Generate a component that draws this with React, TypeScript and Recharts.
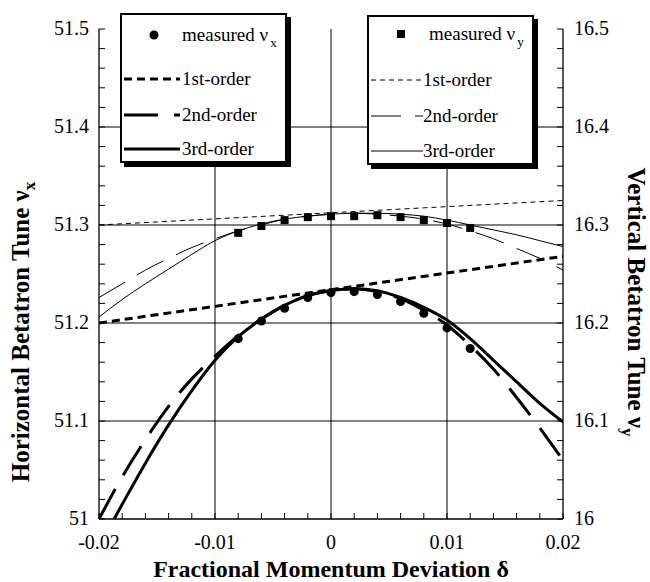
import React from 'react';
import { ComposedChart, Line, Scatter, XAxis, YAxis, ReferenceLine } from 'recharts';

// ---------- data ----------
const deltaGrid = [-0.02, -0.018, -0.016, -0.014, -0.012, -0.01, -0.008, -0.006, -0.004, -0.002, 0, 0.002, 0.004, 0.006, 0.008, 0.01, 0.012, 0.014, 0.016, 0.018, 0.02];
const nuX3 = [50.972, 51.015, 51.057, 51.096, 51.131, 51.162, 51.186, 51.204, 51.218, 51.228, 51.233, 51.235, 51.233, 51.226, 51.216, 51.203, 51.184, 51.162, 51.14, 51.118, 51.099];
const nuX2 = [51.0, 51.043, 51.081, 51.115, 51.143, 51.166, 51.187, 51.204, 51.218, 51.228, 51.233, 51.235, 51.232, 51.225, 51.213, 51.198, 51.177, 51.153, 51.124, 51.093, 51.06];
const nuY3 = [16.206, 16.224, 16.24, 16.255, 16.27, 16.284, 16.294, 16.301, 16.306, 16.309, 16.311, 16.312, 16.312, 16.311, 16.309, 16.305, 16.3, 16.295, 16.29, 16.284, 16.278];
const nuY2 = [16.226, 16.24, 16.254, 16.266, 16.277, 16.286, 16.294, 16.3, 16.306, 16.309, 16.311, 16.312, 16.311, 16.309, 16.306, 16.301, 16.294, 16.286, 16.276, 16.266, 16.254];

const delta1 = [-0.02, 0, 0.02];
const nuX1 = [51.2, 51.234, 51.268];
const nuY1 = [16.3, 16.3125, 16.325];

const deltaMeas = [-0.008, -0.006, -0.004, -0.002, 0, 0.002, 0.004, 0.006, 0.008, 0.01, 0.012];
const nuXMeas = [51.184, 51.202, 51.215, 51.226, 51.231, 51.232, 51.229, 51.222, 51.21, 51.195, 51.174];
const nuYMeas = [16.292, 16.299, 16.305, 16.308, 16.309, 16.309, 16.31, 16.308, 16.305, 16.302, 16.297];

const xTickValues = [-0.02, -0.018, -0.016, -0.014, -0.012, -0.01, -0.008, -0.006, -0.004, -0.002, 0, 0.002, 0.004, 0.006, 0.008, 0.01, 0.012, 0.014, 0.016, 0.018, 0.02];
const xMajorValues = [-0.02, -0.01, 0, 0.01, 0.02];
const xMajorLabels = ['-0.02', '-0.01', '0', '0.01', '0.02'];

const yLTickValues = [51, 51.02, 51.04, 51.06, 51.08, 51.1, 51.12, 51.14, 51.16, 51.18, 51.2, 51.22, 51.24, 51.26, 51.28, 51.3, 51.32, 51.34, 51.36, 51.38, 51.4, 51.42, 51.44, 51.46, 51.48, 51.5];
const yLMajorValues = [51, 51.1, 51.2, 51.3, 51.4, 51.5];
const yLMajorLabels = ['51', '51.1', '51.2', '51.3', '51.4', '51.5'];

const yRTickValues = [16, 16.02, 16.04, 16.06, 16.08, 16.1, 16.12, 16.14, 16.16, 16.18, 16.2, 16.22, 16.24, 16.26, 16.28, 16.3, 16.32, 16.34, 16.36, 16.38, 16.4, 16.42, 16.44, 16.46, 16.48, 16.5];
const yRMajorValues = [16, 16.1, 16.2, 16.3, 16.4, 16.5];
const yRMajorLabels = ['16', '16.1', '16.2', '16.3', '16.4', '16.5'];

const gridX = [-0.01, 0, 0.01];
const gridY = [51.1, 51.2, 51.3, 51.4];

// ---------- helpers ----------
const pair = (xs: number[], ys: number[]) => xs.map((d, i) => ({ d, v: ys[i] }));
const FONT = '"Liberation Serif", "Times New Roman", serif';
const TICK_FS = 20;
const TICK_LEN = 6;
const txtStyle: React.CSSProperties = { fontFamily: FONT };

const findLabel = (v: number, majors: number[], labels: string[]) => {
  const i = majors.findIndex((m) => Math.abs(m - v) < 1e-9);
  return i >= 0 ? labels[i] : null;
};

const BottomTick = (props: any) => {
  const { x, y, payload } = props;
  const lab = findLabel(payload.value, xMajorValues, xMajorLabels);
  return (
    <g>
      <line x1={x} y1={y} x2={x} y2={y - TICK_LEN} stroke="#000" strokeWidth={1} />
      {lab !== null && (
        <text x={x} y={y + 30} textAnchor="middle" fontSize={TICK_FS} style={txtStyle} fill="#000">{lab}</text>
      )}
    </g>
  );
};
const TopTick = (props: any) => {
  const { x, y } = props;
  return <line x1={x} y1={y} x2={x} y2={y + TICK_LEN} stroke="#000" strokeWidth={1} />;
};
const LeftTick = (props: any) => {
  const { x, y, payload } = props;
  const lab = findLabel(payload.value, yLMajorValues, yLMajorLabels);
  return (
    <g>
      <line x1={x} y1={y} x2={x + TICK_LEN} y2={y} stroke="#000" strokeWidth={1} />
      {lab !== null && (
        <text x={x - 10} y={y + 6} textAnchor="end" fontSize={TICK_FS} style={txtStyle} fill="#000">{lab}</text>
      )}
    </g>
  );
};
const RightTick = (props: any) => {
  const { x, y, payload } = props;
  const lab = findLabel(payload.value, yRMajorValues, yRMajorLabels);
  return (
    <g>
      <line x1={x} y1={y} x2={x - TICK_LEN} y2={y} stroke="#000" strokeWidth={1} />
      {lab !== null && (
        <text x={x + 11} y={y + 6} textAnchor="start" fontSize={TICK_FS} style={txtStyle} fill="#000">{lab}</text>
      )}
    </g>
  );
};

const TITLE_FS = 25;
const LeftTitle = (props: any) => {
  const vb = props.viewBox;
  const cx = vb.x + 21;
  const cy = vb.y + vb.height / 2 + 58;
  return (
    <text x={cx} y={cy} transform={`rotate(-90 ${cx} ${cy})`} textAnchor="middle" fontSize={TITLE_FS} fontWeight="bold" style={txtStyle} fill="#000" dy={8}>
      Horizontal Betatron Tune ν<tspan dy={6} fontSize={17}>x</tspan>
    </text>
  );
};
const RightTitle = (props: any) => {
  const vb = props.viewBox;
  const cx = vb.x + vb.width - 14;
  const cy = vb.y + vb.height / 2 + 28;
  return (
    <text x={cx} y={cy} transform={`rotate(90 ${cx} ${cy})`} textAnchor="middle" fontSize={TITLE_FS} fontWeight="bold" style={txtStyle} fill="#000" dy={8}>
      Vertical Betatron Tune ν<tspan dy={6} fontSize={17}>y</tspan>
    </text>
  );
};
const BottomTitle = (props: any) => {
  const vb = props.viewBox;
  const cx = vb.x + vb.width / 2;
  return (
    <text x={cx} y={vb.y + 58} textAnchor="middle" fontSize={24} fontWeight="bold" style={txtStyle} fill="#000">
      Fractional Momentum Deviation δ
    </text>
  );
};

// line styles
const thick = 3;
const thin = 1;
const dash1Thick = '8 5';
const dash2Thick = '34 16';
const dash1Thin = '5 4';
const dash2Thin = '30 14';

// ---------- legend ----------
const LegendBox = ({ left, top, width, height, rows, marker, sw, d1, d2, sampleW, textX, measX, markerX, sub }: any) => {
  const rowStyle = (cy: number): React.CSSProperties => ({ position: 'absolute', left: 0, top: cy - 12, height: 24, width: '100%' });
  const sample = (cy: number, dash?: string) => (
    <svg style={{ position: 'absolute', left: 0, top: cy - 5, overflow: 'visible' }} width={sampleW + 4} height={10}>
      <line x1={2} y1={5} x2={2 + sampleW} y2={5} stroke="#000" strokeWidth={sw} strokeDasharray={dash} />
    </svg>
  );
  const textStyle = (x: number): React.CSSProperties => ({ position: 'absolute', left: x, top: 0, lineHeight: '24px', fontSize: 19, fontFamily: FONT, whiteSpace: 'nowrap', color: '#000' });
  return (
    <div style={{ position: 'absolute', left, top, width, height, boxSizing: 'border-box', border: '2px solid #000', background: '#fff', boxShadow: '4px 4px 0 #000' }}>
      <div style={rowStyle(rows[0])}>
        <svg style={{ position: 'absolute', left: markerX - 6, top: 6, overflow: 'visible' }} width={12} height={12}>
          {marker === 'circle' ? <circle cx={6} cy={6} r={4.5} fill="#000" /> : <rect x={2} y={2} width={8} height={8} fill="#000" />}
        </svg>
        <span style={textStyle(measX)}>measured ν<sub style={{ fontSize: 13, verticalAlign: '-6px', marginLeft: 2 }}>{sub}</sub></span>
      </div>
      <div style={rowStyle(rows[1])}>
        {sample(12, d1)}
        <span style={textStyle(textX)}>1st-order</span>
      </div>
      <div style={rowStyle(rows[2])}>
        {sample(12, d2)}
        <span style={textStyle(textX)}>2nd-order</span>
      </div>
      <div style={rowStyle(rows[3])}>
        {sample(12)}
        <span style={textStyle(textX)}>3rd-order</span>
      </div>
    </div>
  );
};

export default function App() {
  return (
    <div style={{ position: 'absolute', left: 0, top: 0, width: 650, height: 582, background: '#fff' }}>
      <ComposedChart width={650} height={582} margin={{ top: 29, right: 0, bottom: 0, left: 0 }}>
        <XAxis
          xAxisId="b"
          dataKey="d"
          type="number"
          domain={[-0.02, 0.02]}
          ticks={xTickValues}
          interval={0}
          tickSize={0}
          tickMargin={0}
          tickLine={false}
          tick={<BottomTick />}
          axisLine={{ stroke: '#000', strokeWidth: 1.3 }}
          height={63}
          allowDataOverflow
          label={{ content: <BottomTitle /> } as any}
        />
        <XAxis
          xAxisId="t"
          orientation="top"
          type="number"
          domain={[-0.02, 0.02]}
          ticks={xTickValues}
          interval={0}
          tickSize={0}
          tickMargin={0}
          tickLine={false}
          tick={<TopTick />}
          axisLine={{ stroke: '#000', strokeWidth: 1.3 }}
          height={0}
          allowDataOverflow
        />
        <YAxis
          yAxisId="L"
          type="number"
          domain={[51, 51.5]}
          ticks={yLTickValues}
          interval={0}
          tickSize={0}
          tickMargin={0}
          tickLine={false}
          tick={<LeftTick />}
          axisLine={{ stroke: '#000', strokeWidth: 1.3 }}
          width={99}
          allowDataOverflow
          label={{ content: <LeftTitle /> } as any}
        />
        <YAxis
          yAxisId="R"
          orientation="right"
          type="number"
          domain={[16, 16.5]}
          ticks={yRTickValues}
          interval={0}
          tickSize={0}
          tickMargin={0}
          tickLine={false}
          tick={<RightTick />}
          axisLine={{ stroke: '#000', strokeWidth: 1.3 }}
          width={87}
          allowDataOverflow
          label={{ content: <RightTitle /> } as any}
        />

        {gridX.map((g) => (
          <ReferenceLine key={'gx' + g} x={g} xAxisId="b" yAxisId="L" stroke="#000" strokeWidth={1} ifOverflow="hidden" />
        ))}
        {gridY.map((g) => (
          <ReferenceLine key={'gy' + g} y={g} xAxisId="b" yAxisId="L" stroke="#000" strokeWidth={1} ifOverflow="hidden" />
        ))}

        <Line data={pair(delta1, nuY1)} dataKey="v" xAxisId="b" yAxisId="R" type="linear" stroke="#000" strokeWidth={thin} strokeDasharray={dash1Thin} dot={false} isAnimationActive={false} />
        <Line data={pair(deltaGrid, nuY2)} dataKey="v" xAxisId="b" yAxisId="R" type="monotone" stroke="#000" strokeWidth={thin} strokeDasharray={dash2Thin} dot={false} isAnimationActive={false} />
        <Line data={pair(deltaGrid, nuY3)} dataKey="v" xAxisId="b" yAxisId="R" type="monotone" stroke="#000" strokeWidth={thin} dot={false} isAnimationActive={false} />

        <Line data={pair(delta1, nuX1)} dataKey="v" xAxisId="b" yAxisId="L" type="linear" stroke="#000" strokeWidth={thick} strokeDasharray={dash1Thick} dot={false} isAnimationActive={false} />
        <Line data={pair(deltaGrid, nuX2)} dataKey="v" xAxisId="b" yAxisId="L" type="monotone" stroke="#000" strokeWidth={thick} strokeDasharray={dash2Thick} dot={false} isAnimationActive={false} />
        <Line data={pair(deltaGrid, nuX3)} dataKey="v" xAxisId="b" yAxisId="L" type="monotone" stroke="#000" strokeWidth={thick} dot={false} isAnimationActive={false} />

        <Scatter data={pair(deltaMeas, nuXMeas)} dataKey="v" xAxisId="b" yAxisId="L" shape="circle" fill="#000" isAnimationActive={false} />
        <Scatter data={pair(deltaMeas, nuYMeas)} dataKey="v" xAxisId="b" yAxisId="R" shape="square" fill="#000" isAnimationActive={false} />
      </ComposedChart>

      <LegendBox left={120} top={13} width={167} height={150} rows={[20, 64, 100, 134]} marker="circle" sub="x"
        sw={thick} d1={dash1Thick} d2={dash2Thick} sampleW={56} textX={60} measX={60} markerX={32} />
      <LegendBox left={367} top={15} width={167} height={150} rows={[17, 63, 99, 134]} marker="square" sub="y"
        sw={thin} d1={dash1Thin} d2={dash2Thin} sampleW={52} textX={54} measX={60} markerX={32} />
    </div>
  );
}
